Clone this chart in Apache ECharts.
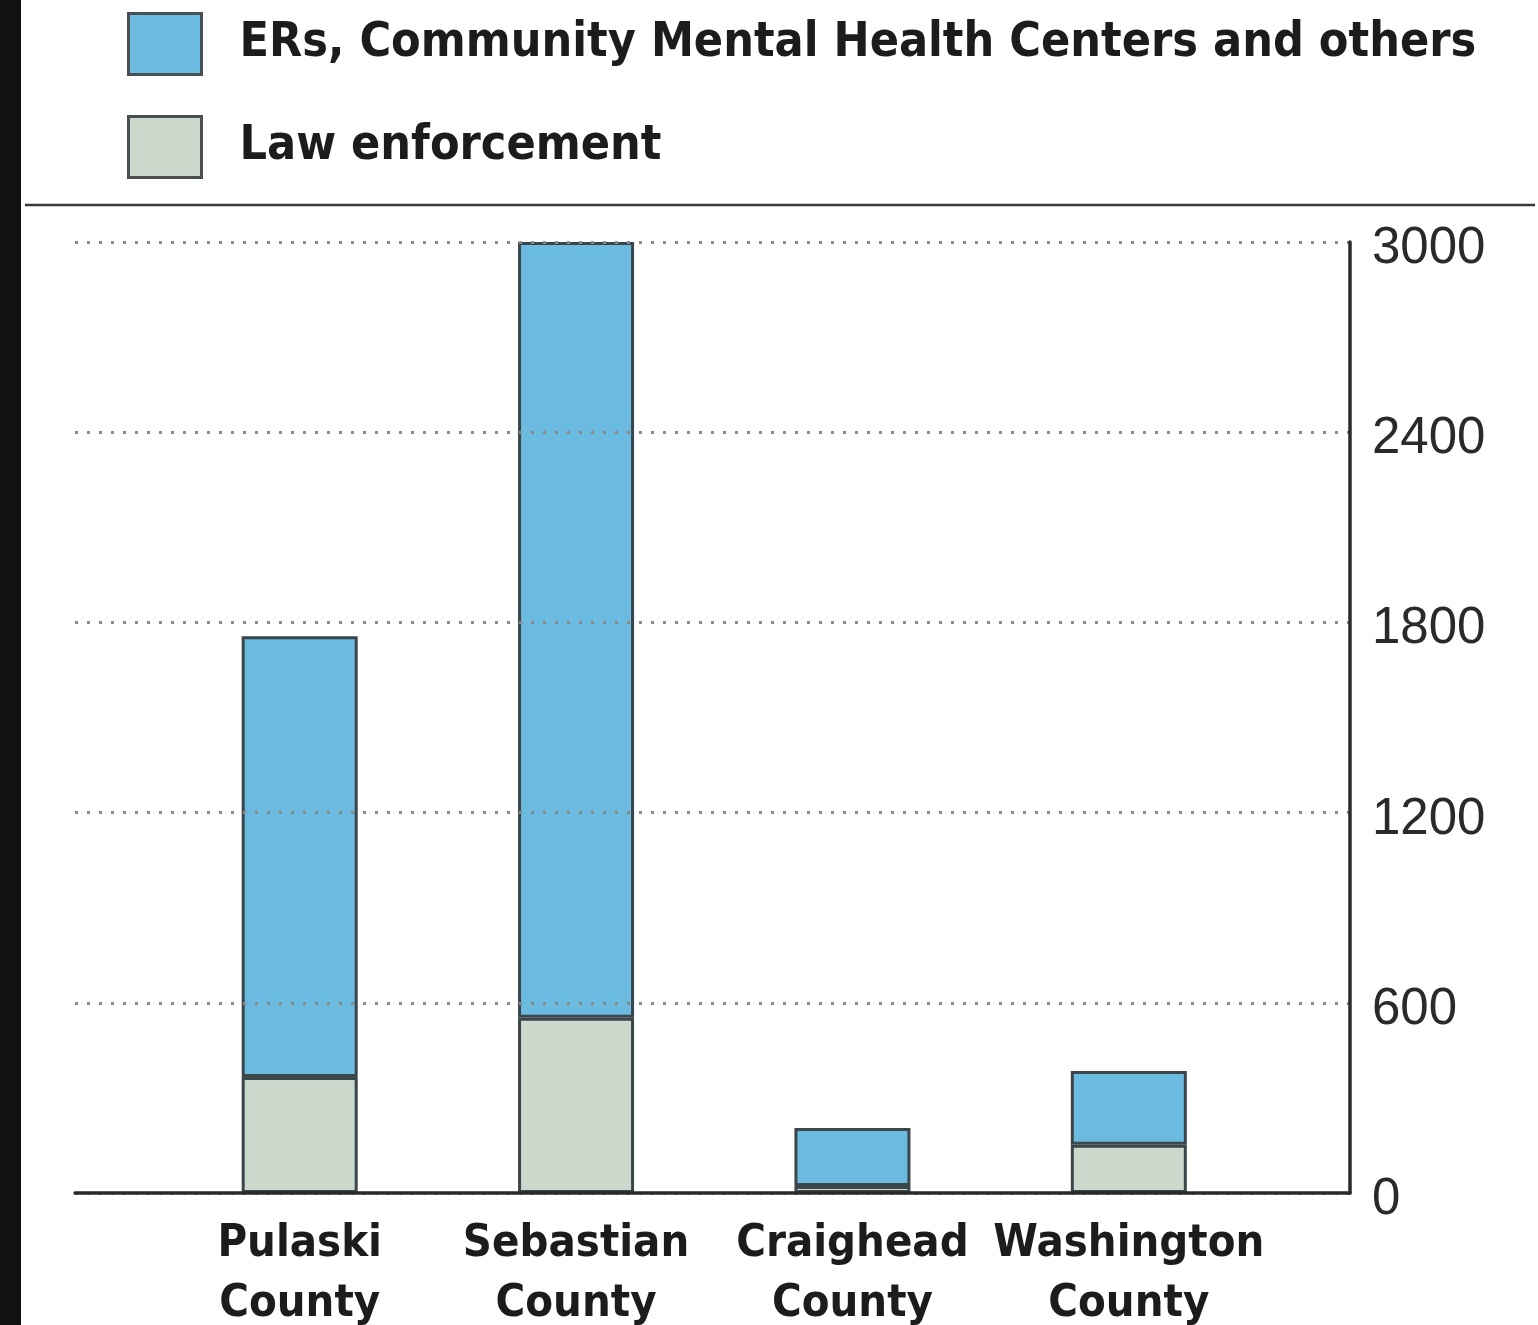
<!DOCTYPE html>
<html>
<head>
<meta charset="utf-8">
<script src="https://cdn.jsdelivr.net/npm/echarts@6/dist/echarts.min.js"></script>
<style>
  html, body { margin: 0; padding: 0; background: #111; }
  #chart { position: absolute; left: 21px; top: 0; width: 1517px; height: 1325px; background: #fff; }
</style>
</head>
<body>
<div id="chart"></div>
<script>
// Counties and referral sources
const counties = ['Pulaski\nCounty', 'Sebastian\nCounty', 'Craighead\nCounty', 'Washington\nCounty'];
const lawEnforcement = [366, 553, 22, 152];
const ersAndOthers = [1390, 2447, 183, 233];
const yTicks = [0, 600, 1200, 1800, 2400, 3000];

const condensed = "'DejaVu Sans Condensed', 'Arial Narrow', sans-serif";
const names = ['ERs, Community Mental Health Centers and others', 'Law enforcement'];

const chart = echarts.init(document.getElementById('chart'), null, { renderer: 'canvas' });

const barBorder = { borderColor: '#3b464a', borderWidth: 3 };
const yMin = yTicks[0];
const yMax = yTicks[yTicks.length - 1];
const yStep = yTicks[1] - yTicks[0];

chart.setOption({
  animation: false,
  backgroundColor: '#ffffff',
  legend: {
    orient: 'vertical',
    left: 106,
    top: 12,
    padding: 0,
    itemWidth: 73,
    itemHeight: 61,
    itemGap: 39,
    icon: 'rect',
    data: names,
    itemStyle: { borderColor: '#4a4f52', borderWidth: 3 },
    textStyle: {
      fontFamily: condensed,
      fontWeight: 'bold',
      fontSize: 48,
      lineHeight: 61,
      color: '#1c1c1c',
      padding: [0, 0, 0, 33]
    }
  },
  graphic: [{
    type: 'line',
    shape: { x1: 4, y1: 205, x2: 1514, y2: 205 },
    style: { stroke: '#3a3a3a', lineWidth: 2.5 }
  }],
  grid: [
    // bars
    { left: 140.5, right: 271, top: 242, bottom: 132, outerBoundsMode: 'none' },
    // frame: dotted guides, right-hand scale and baseline
    { left: 54, right: 188, top: 242, bottom: 132, outerBoundsMode: 'none' }
  ],
  xAxis: [
    {
      type: 'category',
      gridIndex: 0,
      data: counties,
      axisTick: { show: false },
      axisLine: { show: false },
      axisLabel: {
        interval: 0,
        hideOverlap: false,
        margin: 21,
        fontFamily: condensed,
        fontWeight: 'bold',
        fontSize: 45,
        lineHeight: 60,
        color: '#1c1c1c'
      }
    },
    {
      type: 'value',
      gridIndex: 1,
      min: 0,
      max: 1,
      splitLine: { show: false },
      axisTick: { show: false },
      axisLabel: { show: false },
      axisLine: { show: true, onZero: false, lineStyle: { color: '#2a2a2a', width: 3.5 } },
      z: 5
    }
  ],
  yAxis: [
    {
      type: 'value',
      gridIndex: 0,
      min: yMin,
      max: yMax,
      interval: yStep,
      show: false
    },
    {
      type: 'value',
      gridIndex: 1,
      position: 'right',
      min: yMin,
      max: yMax,
      interval: yStep,
      axisTick: { show: false },
      axisLine: { show: true, onZero: false, lineStyle: { color: '#2a2a2a', width: 3.5 } },
      splitLine: { show: true, lineStyle: { color: '#8a8a8a', width: 3, type: [3, 9] } },
      axisLabel: {
        margin: 22,
        formatter: v => '{n|' + v + '}',
        rich: {
          n: {
            padding: [14, 0, 0, 0],
            fontFamily: "'Liberation Sans', Arial, sans-serif",
            fontSize: 51,
            color: '#2a2a2a'
          }
        }
      },
      z: 5
    }
  ],
  series: [
    {
      name: names[1],
      type: 'bar',
      stack: 'total',
      xAxisIndex: 0,
      yAxisIndex: 0,
      barWidth: 116,
      z: 3,
      itemStyle: Object.assign({ color: '#cbd8cc' }, barBorder),
      data: lawEnforcement
    },
    {
      name: names[0],
      type: 'bar',
      stack: 'total',
      xAxisIndex: 0,
      yAxisIndex: 0,
      barWidth: 116,
      z: 3,
      itemStyle: Object.assign({ color: '#6abbdf' }, barBorder),
      data: ersAndOthers
    }
  ]
});
</script>
</body>
</html>
